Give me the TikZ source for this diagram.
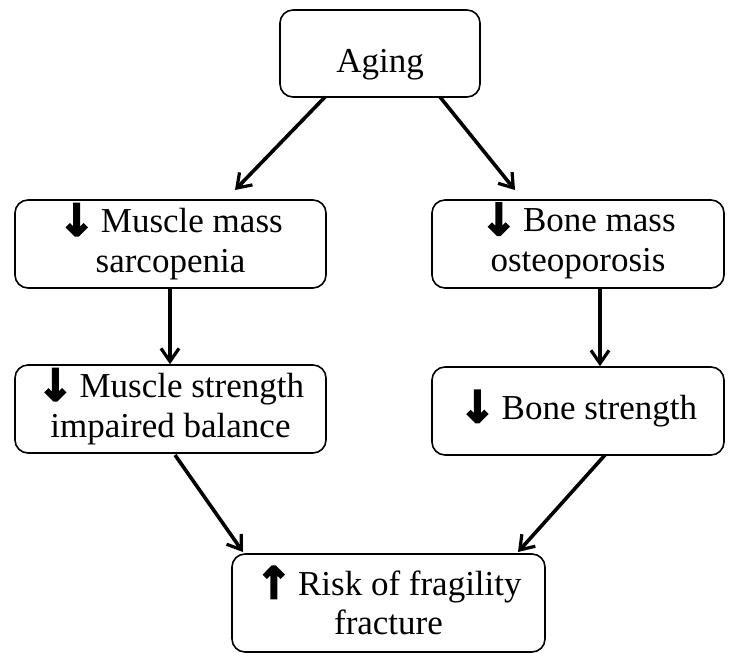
\documentclass[tikz,border=0pt]{standalone}
\usepackage{fontspec}
\setmainfont{Liberation Serif}
\newfontfamily\arrowfont[FakeBold=4]{DejaVu Sans Bold}
\usetikzlibrary{arrows.meta}
\newcommand{\dn}{\smash{\raisebox{-3pt}{\fontsize{44}{44}\arrowfont ↓}}\,}
\newcommand{\upa}{\smash{\raisebox{-3pt}{\fontsize{44}{44}\arrowfont ↑}}\,}
\begin{document}
\begin{tikzpicture}[x=1pt,y=-1pt,
  box/.style={draw, line width=1.6pt, rounded corners=13pt, fill=white, align=center,
    font=\fontsize{35}{39.5}\selectfont, inner sep=0pt},
  conn/.style={line width=3.6pt, -{Straight Barb[length=13pt,width=18pt,line width=3.2pt]}}]
\useasboundingbox (0,0) rectangle (736,653);
\node[box, minimum width=200pt, minimum height=87pt, text height=37pt, text depth=0pt] (aging) at (380,53.5) {Aging};
\node[box, minimum width=311pt, minimum height=88pt] (mm) at (170.5,244) {\dn Muscle mass\\sarcopenia};
\node[box, minimum width=292pt, minimum height=88pt] (bm) at (578,244) {\dn Bone mass\\osteoporosis};
\node[box, minimum width=311pt, minimum height=88pt] (ms) at (170.5,409) {\dn Muscle strength\\impaired balance};
\node[box, minimum width=292pt, minimum height=88pt] (bs) at (578,411) {\dn Bone strength};
\node[box, minimum width=313pt, minimum height=98pt] (risk) at (388.5,603) {\upa Risk of fragility\\fracture};
\coordinate (a1) at (325,97);
\coordinate (a2) at (440,97);
\coordinate (t1) at (235,190);
\coordinate (t2) at (515,190);
\coordinate (s1) at (175,455);
\coordinate (s2) at (605,455);
\coordinate (r1) at (243,552);
\coordinate (r2) at (518,552);
\draw[conn] (a1) -- (t1);
\draw[conn] (a2) -- (t2);
\draw[conn] (mm.south -| 170,0) -- (ms.north -| 170,0);
\draw[conn] (bm.south -| 600,0) -- (bs.north -| 600,0);
\draw[conn] (s1) -- (r1);
\draw[conn] (s2) -- (r2);
\end{tikzpicture}
\end{document}
